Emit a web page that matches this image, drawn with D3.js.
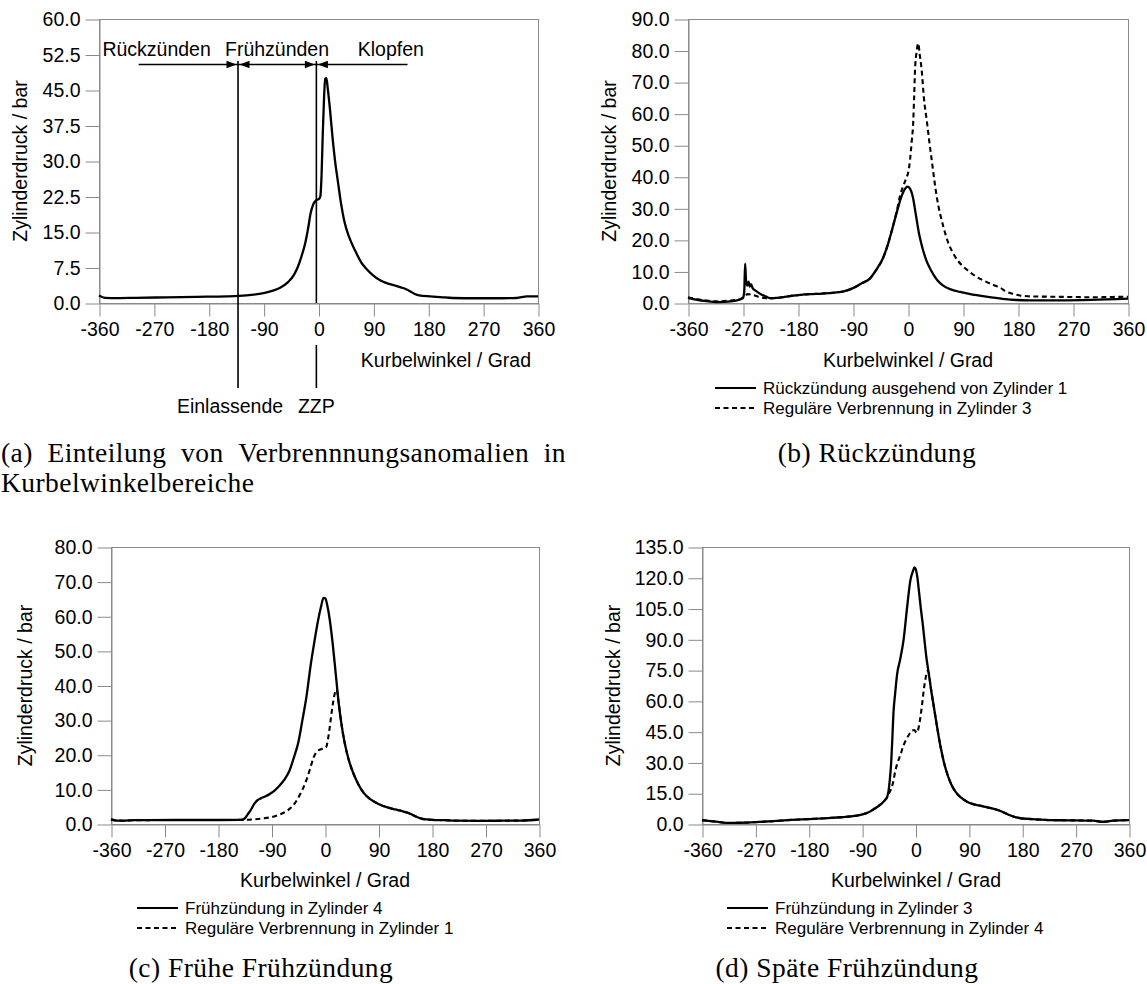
<!DOCTYPE html>
<html>
<head>
<meta charset="utf-8">
<script src="https://cdnjs.cloudflare.com/ajax/libs/d3/7.8.5/d3.min.js"></script>
<style>
    body { margin: 0; background: #fff; }
    svg  { display: block; }
    .sans { font-family: 'Liberation Sans', Arial, sans-serif; fill: #000; }
    .serif { font-family: 'Liberation Serif', 'Times New Roman', serif; fill: #000; }
</style>
</head>
<body>
<svg id="chart" width="1147" height="984"></svg>
<script>
'use strict';

/*
    Data (Kurbelwinkel in Grad, Zylinderdruck in bar)
*/

const X_TICKS   = [-360, -270, -180, -90, 0, 90, 180, 270, 360];
const Y_TICKS_A = [0, 7.5, 15, 22.5, 30, 37.5, 45, 52.5, 60];
const Y_TICKS_B = [0, 10, 20, 30, 40, 50, 60, 70, 80, 90];
const Y_TICKS_C = [0, 10, 20, 30, 40, 50, 60, 70, 80];
const Y_TICKS_D = [0, 15, 30, 45, 60, 75, 90, 105, 120, 135];

// (a) Einteilung
const PRESSURE_A = [
    [-360, 1.6], [-350, 1.1], [-330, 1.05], [-300, 1.1], [-250, 1.2], [-200, 1.3], [-150, 1.4],
    [-130, 1.5], [-110, 1.7], [-90, 2.1], [-75, 2.6], [-63, 3.2], [-50, 4.4], [-40, 6], [-34, 7.6],
    [-28, 9.8], [-22, 12.5], [-17, 15.8], [-13, 18.9], [-8, 21], [-4, 21.7], [1, 22], [3, 22.5],
    [5, 27], [7, 35.8], [9, 43], [11, 47.4], [13, 47.5], [15, 45.5], [19, 40.7], [23, 35],
    [27, 30.2], [32, 25.5], [37, 21], [42, 17.5], [50, 14], [60, 11.1], [70, 8.6], [78, 7.3],
    [90, 5.8], [101, 4.8], [112, 4.2], [125, 3.7], [135, 3.3], [142, 3.0], [150, 2.5], [158, 1.9],
    [165, 1.6], [183, 1.4], [200, 1.25], [220, 1.06], [260, 1.0], [300, 1.0], [325, 1.06],
    [342, 1.4], [360, 1.4]
];

// (b) Rückzündung
const BACKFIRE_B = [
    [-360, 1.6], [-345, 1.0], [-330, 0.6], [-313, 0.3], [-290, 0.5], [-275, 1.1], [-270, 1.6],
    [-268, 3.5], [-266.5, 12.5], [-265, 7], [-263, 5.5], [-261, 6.8], [-259, 5.2], [-257, 6.0],
    [-254, 4.6], [-250, 4.0], [-245, 3.3], [-240, 2.7], [-232, 2.0], [-225, 1.5], [-215, 1.6],
    [-200, 2.0], [-190, 2.3], [-175, 2.6], [-160, 2.8], [-140, 3.0], [-120, 3.3], [-105, 3.7],
    [-90, 4.7], [-75, 6.3], [-62, 7.8], [-52, 10.5], [-41, 14.2], [-33, 18.5], [-25, 24],
    [-18, 29], [-12, 33], [-6, 35.8], [-1, 36.9], [3, 36.3], [8, 33.5], [13, 27.8], [18, 22],
    [24, 17.2], [30, 13.5], [38, 10.2], [48, 7.2], [57, 5.6], [70, 4.3], [85, 3.5], [100, 2.9],
    [128, 2.0], [155, 1.3], [177, 0.95], [200, 0.85], [250, 0.85], [300, 1.0], [360, 1.4]
];
const REGULAR_B = [
    [-360, 1.8], [-345, 1.2], [-330, 0.8], [-313, 0.5], [-290, 0.8], [-275, 1.2], [-268, 2.0],
    [-262, 2.8], [-255, 2.6], [-245, 2.0], [-235, 1.6], [-225, 1.5], [-215, 1.6], [-200, 2.0],
    [-175, 2.6], [-140, 3.0], [-105, 3.7], [-90, 4.7], [-75, 6.3], [-62, 7.8], [-52, 10.5],
    [-41, 14.2], [-33, 18.5], [-25, 24], [-18, 29.5], [-13, 34], [-8, 37], [-3, 39.5], [1, 42],
    [3.3, 45.3], [6, 51], [8.7, 58], [10, 65], [11.5, 73.8], [14, 79.5], [16.9, 82.3], [19, 79],
    [22.4, 73.8], [26, 65], [30.6, 58], [35, 51], [38.8, 45.3], [47, 33.7], [57.8, 24.2],
    [66, 19], [74, 15.7], [82, 13.3], [90.5, 11.5], [100, 10], [112, 8.3], [125, 7], [140, 5.7],
    [152, 4.7], [161, 3.6], [170, 3.0], [183, 2.4], [200, 2.1], [230, 2.0], [270, 1.9],
    [300, 1.8], [330, 1.9], [360, 2.0]
];

// (c) Frühe Frühzündung
const PREIGNITION_C = [
    [-360, 1.35], [-350, 1.0], [-340, 0.95], [-320, 1.1], [-250, 1.15], [-180, 1.15], [-140, 1.2],
    [-135, 1.6], [-130, 2.8], [-125, 4.0], [-119, 5.8], [-114, 6.8], [-108, 7.4], [-100, 8.0],
    [-91, 8.9], [-84, 9.8], [-76, 11.2], [-68, 12.9], [-60, 15.3], [-52, 19.4], [-45, 23.5],
    [-38, 30], [-31, 37], [-24, 46], [-18, 52.5], [-12, 58.5], [-7, 62.5], [-2.5, 65.3],
    [0.5, 65.2], [4, 63], [8, 59], [13, 52], [18, 43.5], [23, 35], [28, 28.5], [33, 23.5],
    [40, 18.5], [48, 14.5], [56, 11.5], [65, 9], [76, 7.2], [90, 5.8], [105, 4.8], [118, 4.2],
    [130, 3.7], [140, 3.2], [150, 2.4], [158, 1.8], [166, 1.4], [180, 1.2], [200, 1.1],
    [220, 0.95], [260, 0.9], [300, 0.95], [330, 1.0], [360, 1.3]
];
const REGULAR_C = [
    [-360, 1.3], [-350, 1.0], [-340, 0.95], [-320, 1.1], [-250, 1.15], [-180, 1.15], [-136, 1.2],
    [-120, 1.35], [-105, 1.6], [-90, 2.0], [-78, 2.6], [-68, 3.4], [-58, 4.6], [-50, 6.2],
    [-43, 8.2], [-37, 10.3], [-31, 12.8], [-25, 16], [-19, 19.3], [-13, 21], [-7, 21.6],
    [-2, 21.8], [2, 22.2], [5, 24.5], [8, 28], [11, 32], [14, 35.5], [17, 38], [19.5, 38.8],
    [23, 35], [28, 28.5], [33, 23.5], [40, 18.5], [48, 14.5], [56, 11.5], [65, 9], [76, 7.2],
    [90, 5.8], [105, 4.8], [118, 4.2], [130, 3.7], [140, 3.2], [150, 2.4], [158, 1.8],
    [166, 1.4], [180, 1.2], [200, 1.1], [220, 0.95], [260, 0.9], [300, 0.95], [330, 1.0],
    [360, 1.3]
];

// (d) Späte Frühzündung
const PREIGNITION_D = [
    [-360, 1.9], [-345, 1.4], [-333, 1.0], [-315, 0.5], [-295, 0.6], [-270, 0.9], [-240, 1.4],
    [-209, 2.0], [-180, 2.4], [-147, 2.9], [-125, 3.3], [-109, 3.7], [-91, 4.6], [-80, 5.6],
    [-72, 6.9], [-64, 8.4], [-57, 10], [-52, 11.5], [-48, 13], [-45.5, 16], [-43.5, 21],
    [-41, 30], [-39, 42], [-37, 55], [-34.5, 63], [-31, 73], [-26, 80], [-20, 90], [-14, 106],
    [-8.5, 119], [-4, 123.5], [-2, 125], [0, 124.5], [3, 120.5], [6, 113], [9, 105], [12, 98],
    [15, 90], [18, 82], [22, 74], [26, 66], [31, 57], [36, 48], [42, 38], [48, 30], [54, 24],
    [60, 19.5], [68, 15.5], [77, 12.8], [86, 11], [96, 9.8], [108, 9], [121, 8.1], [132, 7.4],
    [140, 6.7], [150, 5.5], [158, 4.4], [168, 3.4], [177, 2.8], [190, 2.5], [202, 2.3],
    [226, 1.9], [260, 1.8], [300, 1.6], [313, 1.1], [322, 1.2], [332, 1.6], [345, 1.8], [360, 1.9]
];
const REGULAR_D = [
    [-360, 1.9], [-345, 1.4], [-333, 1.0], [-315, 0.5], [-295, 0.6], [-270, 0.9], [-240, 1.4],
    [-209, 2.0], [-180, 2.4], [-147, 2.9], [-125, 3.3], [-109, 3.7], [-91, 4.6], [-80, 5.6],
    [-72, 6.9], [-64, 8.4], [-57, 10], [-52, 11.5], [-48, 13], [-45, 14.8], [-42, 16.5],
    [-38, 20], [-34, 26], [-30, 30], [-25, 34], [-20, 38.5], [-15, 41.5], [-10, 44], [-6, 45.5],
    [-2, 45.8], [2, 44.5], [4, 45.5], [6, 48], [8.5, 52.5], [11, 58], [14, 65.5], [17, 71],
    [20, 74.5], [22, 74], [26, 66], [31, 57], [36, 48], [42, 38], [48, 30], [54, 24],
    [60, 19.5], [68, 15.5], [77, 12.8], [86, 11], [96, 9.8], [108, 9], [121, 8.1], [132, 7.4],
    [140, 6.7], [150, 5.5], [158, 4.4], [168, 3.4], [177, 2.8], [190, 2.5], [202, 2.3],
    [226, 1.9], [260, 1.8], [300, 1.6], [313, 1.1], [322, 1.2], [332, 1.6], [345, 1.8], [360, 1.9]
];

// (a) Kurbelwinkelbereiche
const EINLASS_ANGLE  = -132;
const ZZP_ANGLE      = -3.5;
const ARROW_LEVEL    = 50.4;
const ARROW_SPAN     = [-295, 146];
const REGION_LEVEL   = 53.6;
const REGION_NAMES   = ['Rückzünden', 'Frühzünden', 'Klopfen'];
const REGION_CENTERS = [-265.5, -68, 118.6];

/*
    Constants
*/

const SVG = d3.select('#chart');

const X_TITLE = 'Kurbelwinkel / Grad';
const Y_TITLE = 'Zylinderdruck / bar';

const FRAME_COLOR = '#8a8a8a';
const DASH        = '5,3.5';

const CAPTION_SIZE    = 27.5;
const CAPTION_SPACING = 0.45;

const PANELS = [
    {
        box: { left: 99, right: 538, top: 19, bottom: 303 },
        yMax: 60, yTicks: Y_TICKS_A,
        series: [{ data: PRESSURE_A, dashed: false }],
        xTitle: { x: 531, y: 367, anchor: 'end' },
        yTitleX: 20,
        legend: null
    },
    {
        box: { left: 688, right: 1128, top: 19, bottom: 303 },
        yMax: 90, yTicks: Y_TICKS_B,
        series: [
            { data: REGULAR_B,  dashed: true,  name: 'Reguläre Verbrennung in Zylinder 3' },
            { data: BACKFIRE_B, dashed: false, name: 'Rückzündung ausgehend von Zylinder 1' }
        ],
        xTitle: { x: 908, y: 367, anchor: 'middle' },
        yTitleX: 609,
        legend: { x: 715, y: 388 }
    },
    {
        box: { left: 111, right: 539, top: 547, bottom: 824 },
        yMax: 80, yTicks: Y_TICKS_C,
        series: [
            { data: REGULAR_C,     dashed: true,  name: 'Reguläre Verbrennung in Zylinder 1' },
            { data: PREIGNITION_C, dashed: false, name: 'Frühzündung in Zylinder 4' }
        ],
        xTitle: { x: 325, y: 887, anchor: 'middle' },
        yTitleX: 25,
        legend: { x: 137, y: 908 }
    },
    {
        box: { left: 702, right: 1129, top: 547, bottom: 824 },
        yMax: 135, yTicks: Y_TICKS_D,
        series: [
            { data: REGULAR_D,     dashed: true,  name: 'Reguläre Verbrennung in Zylinder 4' },
            { data: PREIGNITION_D, dashed: false, name: 'Frühzündung in Zylinder 3' }
        ],
        xTitle: { x: 916, y: 887, anchor: 'middle' },
        yTitleX: 613,
        legend: { x: 727, y: 908 }
    }
];

/*
    Functions
*/

function drawPanel(panel) {

    const B = panel.box;
    const g = SVG.append('g');

    const x = d3.scaleLinear().domain([-360, 360]).range([B.left, B.right]);
    const y = d3.scaleLinear().domain([0, panel.yMax]).range([B.bottom, B.top]);

    // Frame
    g.append('rect')
        .attr('x', B.left + 0.5).attr('y', B.top + 0.5)
        .attr('width', B.right - B.left).attr('height', B.bottom - B.top)
        .attr('fill', 'none').attr('stroke', FRAME_COLOR);

    const xAxis = g.append('g')
        .attr('transform', `translate(0.5,${B.bottom + 0.5})`)
        .call(d3.axisBottom(x).tickValues(X_TICKS).tickSize(13).tickPadding(6)
            .tickSizeOuter(0).tickFormat(d => String(d)));

    const yAxis = g.append('g')
        .attr('transform', `translate(${B.left + 0.5},0.5)`)
        .call(d3.axisLeft(y).tickValues(panel.yTicks).tickSize(14).tickPadding(5)
            .tickSizeOuter(0).tickFormat(d3.format('.1f')));

    [xAxis, yAxis].forEach(a => {
        a.select('.domain').attr('stroke', FRAME_COLOR);
        a.selectAll('.tick line').attr('stroke', FRAME_COLOR);
        a.selectAll('.tick text')
            .attr('class', 'sans').attr('font-size', 19.5).attr('fill', '#000');
        a.attr('font-family', null).attr('font-size', null);
    });

    // Curves
    const line = d3.line()
        .x(d => x(d[0]))
        .y(d => y(d[1]))
        .curve(d3.curveMonotoneX);

    panel.series.forEach(s => {
        g.append('path')
            .datum(s.data)
            .attr('d', line)
            .attr('fill', 'none')
            .attr('stroke', '#000')
            .attr('stroke-width', s.dashed ? 2.1 : 2.3)
            .attr('stroke-linejoin', 'round')
            .attr('stroke-dasharray', s.dashed ? DASH : null);
    });

    // Axis titles
    g.append('text')
        .attr('class', 'sans').attr('font-size', 19.5)
        .attr('x', panel.xTitle.x).attr('y', panel.xTitle.y)
        .attr('text-anchor', panel.xTitle.anchor)
        .text(X_TITLE);

    g.append('text')
        .attr('class', 'sans').attr('font-size', 19.5)
        .attr('transform', `translate(${panel.yTitleX},${(B.top + B.bottom) / 2}) rotate(-90)`)
        .attr('text-anchor', 'middle').attr('dy', '0.35em')
        .text(Y_TITLE);

    // Legend (solid first, dashed second)
    if (panel.legend) {
        const items = panel.series.slice().reverse();
        items.forEach((s, i) => {
            const ly = panel.legend.y + i * 20;
            g.append('line')
                .attr('x1', panel.legend.x).attr('x2', panel.legend.x + 41)
                .attr('y1', ly).attr('y2', ly)
                .attr('stroke', '#000').attr('stroke-width', 2)
                .attr('stroke-dasharray', s.dashed ? DASH : null);
            g.append('text')
                .attr('class', 'sans').attr('font-size', 17)
                .attr('x', panel.legend.x + 48).attr('y', ly + 6)
                .text(s.name);
        });
    }

    return { g, x, y };
}

function drawRegions(ctx, box) {

    const { g, x, y } = ctx;
    const lineTop = y(ARROW_LEVEL) - 3.5;
    const lineBottom = box.bottom + 85;
    const arrowY = y(ARROW_LEVEL);

    // Einlassende (continuous)
    g.append('line')
        .attr('x1', x(EINLASS_ANGLE)).attr('x2', x(EINLASS_ANGLE))
        .attr('y1', lineTop).attr('y2', lineBottom)
        .attr('stroke', '#000').attr('stroke-width', 1.6);

    // ZZP (interrupted by the tick label)
    g.append('line')
        .attr('x1', x(ZZP_ANGLE)).attr('x2', x(ZZP_ANGLE))
        .attr('y1', lineTop).attr('y2', box.bottom)
        .attr('stroke', '#000').attr('stroke-width', 1.6);
    g.append('line')
        .attr('x1', x(ZZP_ANGLE)).attr('x2', x(ZZP_ANGLE))
        .attr('y1', box.bottom + 42).attr('y2', lineBottom)
        .attr('stroke', '#000').attr('stroke-width', 1.6);

    // Horizontal arrow line
    g.append('line')
        .attr('x1', x(ARROW_SPAN[0])).attr('x2', x(ARROW_SPAN[1]))
        .attr('y1', arrowY).attr('y2', arrowY)
        .attr('stroke', '#000').attr('stroke-width', 1.4);

    // Arrow heads pointing at both boundaries
    [EINLASS_ANGLE, ZZP_ANGLE].forEach(a => {
        const px = x(a);
        [-1, 1].forEach(side => {
            const tip = px + side * 1.5;
            const base = tip + side * 10;
            g.append('path')
                .attr('d', `M${tip},${arrowY}L${base},${arrowY - 3.8}L${base},${arrowY + 3.8}Z`)
                .attr('fill', '#000');
        });
    });

    REGION_NAMES.forEach((name, i) => {
        g.append('text')
            .attr('class', 'sans').attr('font-size', 19.5)
            .attr('x', x(REGION_CENTERS[i])).attr('y', y(REGION_LEVEL) + 7)
            .attr('text-anchor', 'middle')
            .text(name);
    });

    g.append('text')
        .attr('class', 'sans').attr('font-size', 19.5)
        .attr('x', x(EINLASS_ANGLE) - 8).attr('y', box.bottom + 110)
        .attr('text-anchor', 'middle')
        .text('Einlassende');

    g.append('text')
        .attr('class', 'sans').attr('font-size', 19.5)
        .attr('x', x(ZZP_ANGLE)).attr('y', box.bottom + 110)
        .attr('text-anchor', 'middle')
        .text('ZZP');
}

function captionText() {
    return SVG.append('text')
        .attr('class', 'serif')
        .attr('font-size', CAPTION_SIZE)
        .attr('letter-spacing', CAPTION_SPACING);
}

function justifiedLine(words, x0, x1, baseline) {
    const nodes = words.map(w => captionText().attr('y', baseline).text(w));
    const widths = nodes.map(n => n.node().getComputedTextLength());
    const gap = (x1 - x0 - d3.sum(widths)) / (words.length - 1);
    let cx = x0;
    nodes.forEach((n, i) => {
        n.attr('x', cx);
        cx += widths[i] + gap;
    });
}

function caption(text, cx, baseline) {
    captionText()
        .attr('x', cx).attr('y', baseline)
        .attr('text-anchor', 'middle')
        .text(text);
}

/*
    D3 code
*/

const CONTEXTS = PANELS.map(drawPanel);
drawRegions(CONTEXTS[0], PANELS[0].box);

justifiedLine(['(a)', 'Einteilung', 'von', 'Verbrennnungsanomalien', 'in'], 1, 566, 462);
captionText()
    .attr('x', 1).attr('y', 492)
    .text('Kurbelwinkelbereiche');

caption('(b) Rückzündung', 877, 462);
caption('(c) Frühe Frühzündung', 261, 977);
caption('(d) Späte Frühzündung', 847, 977);
</script>
</body>
</html>
